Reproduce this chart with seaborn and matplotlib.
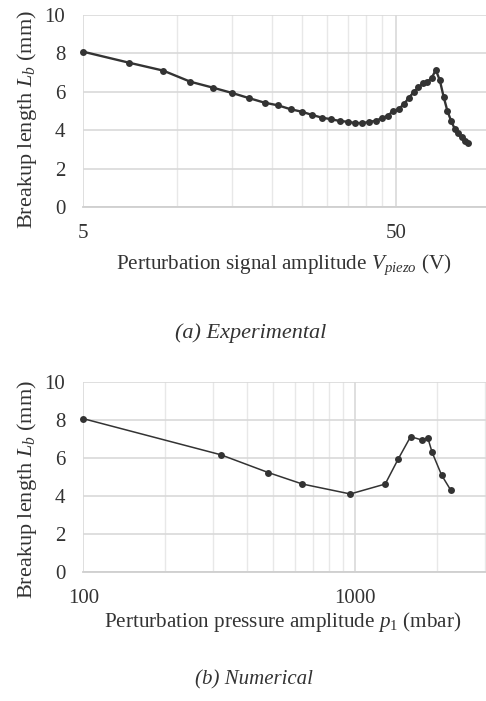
import matplotlib
matplotlib.use("Agg")
import matplotlib.pyplot as plt
import seaborn as sns
import pandas as pd
from matplotlib.ticker import FixedLocator, FixedFormatter, NullFormatter

# ---------------- data ----------------
exp_voltage = [5, 7, 9, 11, 13, 15, 17, 19, 21, 23, 25, 27, 29, 31, 33, 35, 37, 39,
               41, 43, 45, 47, 49, 51, 53, 55, 57, 59, 61, 63, 65, 67, 69, 71, 73,
               75, 77, 79, 81, 83, 85]
exp_breakup = [8.09, 7.52, 7.11, 6.53, 6.22, 5.94, 5.67, 5.44, 5.30, 5.10, 4.97,
               4.80, 4.66, 4.58, 4.49, 4.45, 4.38, 4.38, 4.44, 4.50, 4.63, 4.76,
               5.01, 5.11, 5.37, 5.70, 6.00, 6.24, 6.45, 6.53, 6.72, 7.14, 6.62,
               5.75, 5.01, 4.50, 4.09, 3.85, 3.64, 3.46, 3.33]

num_pressure = [100, 320, 480, 640, 960, 1290, 1440, 1600, 1760, 1850, 1920, 2080, 2250]
num_breakup = [8.06, 6.17, 5.23, 4.63, 4.11, 4.63, 5.94, 7.12, 6.94, 7.06, 6.29, 5.10, 4.30]

y_ticks = [0, 2, 4, 6, 8, 10]
exp_x_ticks = [5, 50]
exp_x_minor = [10, 15, 20, 25, 30, 35, 40, 45]
num_x_ticks = [100, 1000]
num_x_minor = [200, 300, 400, 500, 600, 700, 800, 900, 2000, 3000]

exp_df = pd.DataFrame({"V": exp_voltage, "L": exp_breakup})
num_df = pd.DataFrame({"p": num_pressure, "L": num_breakup})

# ---------------- style ----------------
sns.set_theme(style="white")
plt.rcParams["font.family"] = ["Liberation Serif", "DejaVu Serif"]
plt.rcParams["mathtext.fontset"] = "custom"
plt.rcParams["mathtext.rm"] = "Liberation Serif"
plt.rcParams["mathtext.it"] = "Liberation Serif:italic"
plt.rcParams["mathtext.bf"] = "Liberation Serif:bold"

W, H = 486, 701
fig = plt.figure(figsize=(W / 100, H / 100), dpi=100)

TXT = "#333333"
LINE = "#333333"
FS_TICK = 15
FS_XLAB = 15.2
FS_YLAB = 16


def make_axes(left, top, right, bottom):
    return fig.add_axes([left / W, 1 - bottom / H, (right - left) / W, (bottom - top) / H])


def style_axes(ax, xticks, xminor, xlim):
    ax.set_xscale("log")
    ax.set_xlim(*xlim)
    ax.set_ylim(0, 10)
    ax.yaxis.set_major_locator(FixedLocator(y_ticks))
    ax.xaxis.set_major_locator(FixedLocator(xticks))
    ax.xaxis.set_major_formatter(FixedFormatter([str(t) for t in xticks]))
    ax.xaxis.set_minor_locator(FixedLocator(xminor))
    ax.xaxis.set_minor_formatter(NullFormatter())
    ax.grid(True, which="major", axis="both", color="#d9d9d9", lw=1.2)
    ax.grid(True, which="minor", axis="x", color="#e8e8e8", lw=1.0)
    ax.set_axisbelow(True)
    for s in ["top", "right", "left"]:
        ax.spines[s].set_visible(False)
    ax.spines["bottom"].set_color("#cfcfcf")
    ax.spines["bottom"].set_linewidth(1.3)
    ax.tick_params(axis="both", which="both", length=0, labelsize=FS_TICK, colors=TXT)
    ax.tick_params(axis="y", pad=13)
    ax.tick_params(axis="x", pad=12)


# ---- top panel (a) ----
ax1 = make_axes(83.3, 15, 486, 207.3)
sns.lineplot(data=exp_df, x="V", y="L", ax=ax1, color=LINE, lw=1.7, marker="o",
             markersize=5, markeredgewidth=0, sort=False, clip_on=False)
style_axes(ax1, exp_x_ticks, exp_x_minor, (5, 97))
ax1.set_ylabel("Breakup length $L_b$ (mm)", fontsize=FS_YLAB, color=TXT, va="center")
ax1.yaxis.set_label_coords((27 - 83.3) / 402.7, 1 - (120 - 15) / 192.3)
ax1.set_xlabel(r"Perturbation signal amplitude $V_{piezo}$ (V)", fontsize=FS_XLAB, color=TXT, va="center")
ax1.xaxis.set_label_coords((283.5 - 83.3) / 402.7, (207.3 - 265) / 192.3)

# ---- bottom panel (b) ----
ax2 = make_axes(83.3, 381.7, 486, 572.3)
sns.lineplot(data=num_df, x="p", y="L", ax=ax2, color=LINE, lw=1.1, marker="o",
             markersize=5, markeredgewidth=0, sort=False, clip_on=False)
style_axes(ax2, num_x_ticks, num_x_minor, (100, 3030))
ax2.set_ylabel("Breakup length $L_b$ (mm)", fontsize=FS_YLAB, color=TXT, va="center")
ax2.yaxis.set_label_coords((27 - 83.3) / 402.7, 1 - (490 - 381.7) / 190.6)
ax2.set_xlabel(r"Perturbation pressure amplitude $p_\mathrm{1}$ (mbar)", fontsize=FS_XLAB, color=TXT, va="center")
ax2.xaxis.set_label_coords((282.5 - 83.3) / 402.7, (572.3 - 622) / 190.6)

# ---- captions ----
fig.text(251 / W, 1 - 333 / H, "(a) Experimental", fontsize=16, style="italic",
         color=TXT, ha="center", va="center")
fig.text(254 / W, 1 - 680 / H, "(b) Numerical", fontsize=15, style="italic",
         color=TXT, ha="center", va="center")

fig.savefig("out.png", dpi=100)
